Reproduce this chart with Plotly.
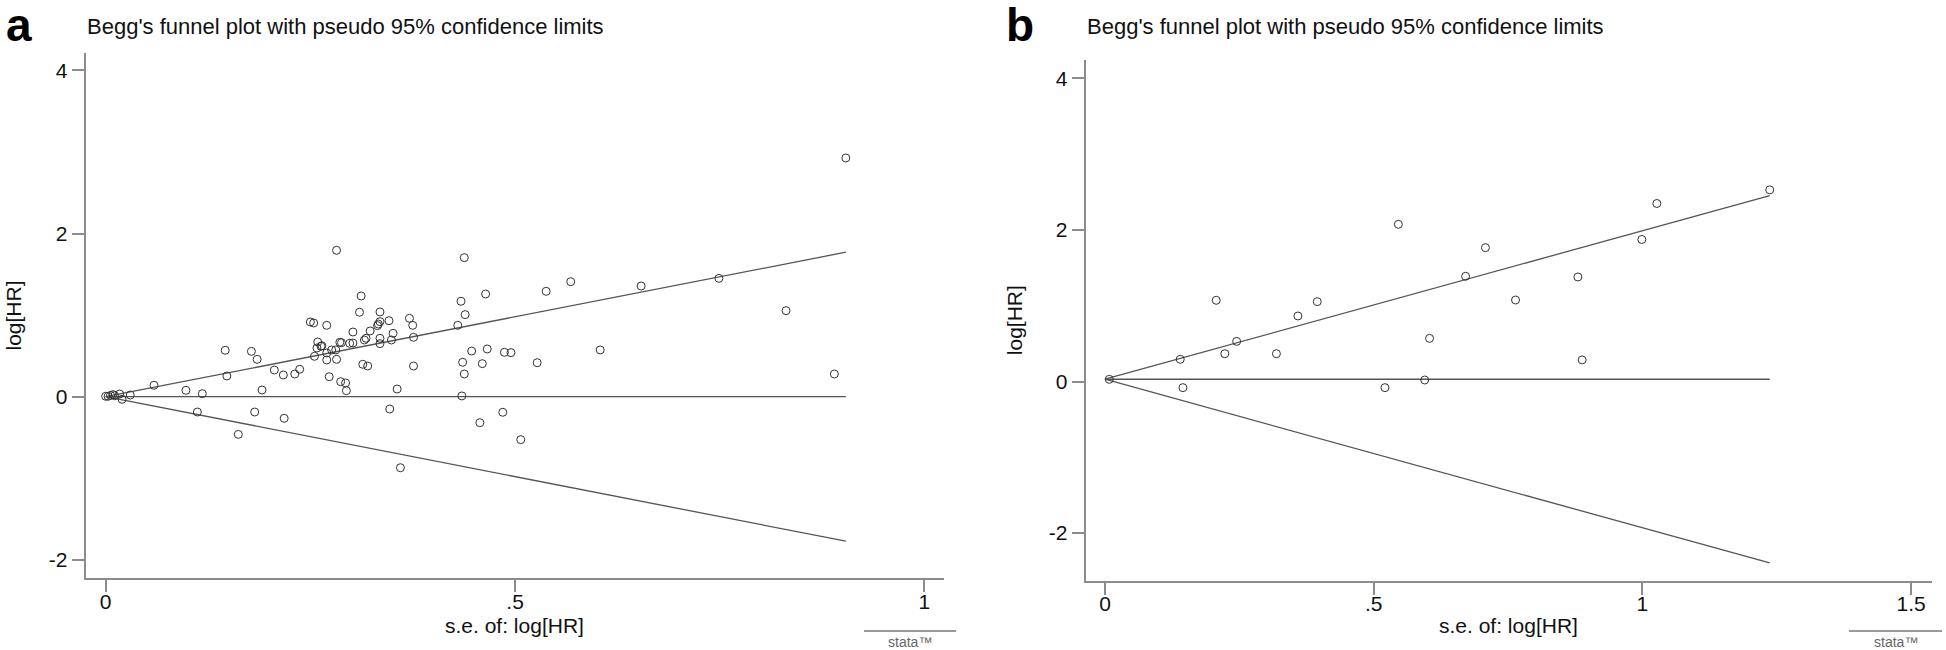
import plotly.graph_objects as go

W, H = 1946, 650

# ---------------- data ----------------
se_a = [0.000, 0.003, 0.006, 0.009, 0.011, 0.017, 0.020, 0.030,
        0.059, 0.098, 0.118, 0.112, 0.146, 0.148, 0.162, 0.178, 0.185, 0.182,
        0.191, 0.206, 0.217, 0.218, 0.231, 0.237, 0.250, 0.254, 0.255, 0.259,
        0.258, 0.263, 0.264, 0.270, 0.270, 0.270, 0.273, 0.276, 0.281, 0.282,
        0.282, 0.286, 0.288, 0.287, 0.293, 0.294, 0.298, 0.302, 0.302, 0.310,
        0.312, 0.314, 0.316, 0.318, 0.320, 0.323, 0.332, 0.333, 0.335, 0.335,
        0.335, 0.335, 0.346, 0.347, 0.349, 0.351, 0.356, 0.360, 0.371, 0.375,
        0.376, 0.376, 0.430, 0.434, 0.436, 0.435, 0.438, 0.438, 0.439, 0.447,
        0.457, 0.460, 0.464, 0.466, 0.485, 0.487, 0.495, 0.507, 0.527, 0.538,
        0.568, 0.604, 0.654, 0.749, 0.831, 0.890, 0.904]
loghr_a = [0.005, 0.005, 0.016, 0.025, 0.012, 0.033, -0.032, 0.020,
           0.140, 0.078, 0.037, -0.188, 0.569, 0.254, -0.462, 0.556, 0.458, -0.188,
           0.082, 0.327, 0.266, -0.265, 0.278, 0.336, 0.916, 0.904, 0.495, 0.671,
           0.597, 0.618, 0.625, 0.875, 0.536, 0.450, 0.245, 0.573, 0.573, 1.795,
           0.458, 0.667, 0.662, 0.184, 0.168, 0.074, 0.655, 0.658, 0.793, 1.035,
           1.235, 0.397, 0.695, 0.716, 0.376, 0.806, 0.871, 0.891, 1.039, 0.920,
           0.716, 0.650, 0.932, -0.151, 0.695, 0.777, 0.094, -0.871, 0.961, 0.875,
           0.728, 0.376, 0.875, 1.170, 0.422, 0.009, 1.705, 0.278, 1.006, 0.560,
           -0.319, 0.405, 1.259, 0.585, -0.191, 0.544, 0.540, -0.527, 0.417, 1.292,
           1.410, 0.573, 1.357, 1.451, 1.055, 0.278, 2.927]
theta_a = 0.0

se_b = [0.008, 0.140, 0.145, 0.207, 0.223, 0.245, 0.319, 0.359, 0.395,
        0.521, 0.546, 0.595, 0.604, 0.671, 0.708, 0.764, 0.880, 0.888,
        0.999, 1.027, 1.237]
loghr_b = [0.029, 0.293, -0.081, 1.072, 0.367, 0.530, 0.367, 0.865, 1.054,
           -0.081, 2.075, 0.020, 0.570, 1.389, 1.767, 1.076, 1.380, 0.285,
           1.875, 2.350, 2.530]
theta_b = 0.03

z95 = 1.96

x_ticks_a = [0, 0.5, 1]
x_ticktext_a = ["0", ".5", "1"]
x_ticks_b = [0, 0.5, 1, 1.5]
x_ticktext_b = ["0", ".5", "1", "1.5"]
y_ticks = [-2, 0, 2, 4]
y_ticktext = ["-2", "0", "2", "4"]

title_text = "Begg's funnel plot with pseudo 95% confidence limits"
panel_letters = ["a", "b"]
x_title = "s.e. of: log[HR]"
y_title = "log[HR]"
logo_text = "stata\u2122"

# ---------------- layout geometry (pixels) ----------------
panels = [
    dict(left=85.7, right=943.75, top=52.7, bottom=578.3,
         xr=[-0.0244, 1.0236], yr=[-2.227, 4.218]),
    dict(left=1085.7, right=1932.0, top=59.7, bottom=580.6,
         xr=[-0.0359, 1.539], yr=[-2.628, 4.248]),
]

FONT = "Liberation Sans, Arial, sans-serif"
AXCOL = "#8c8c8c"
LINECOL = "#555555"
MARKCOL = "#333333"


def px(x):
    return x / W


def py(y):
    return 1 - y / H


fig = go.Figure()

datasets = [(se_a, loghr_a, theta_a), (se_b, loghr_b, theta_b)]
for i, (se, lhr, th) in enumerate(datasets):
    xa = "x" if i == 0 else "x2"
    ya = "y" if i == 0 else "y2"
    smax = max(se)
    line_x = [0, smax]
    # pseudo 95% limits and the pooled estimate
    for yy in ([th + z95 * v for v in line_x],
               [th - z95 * v for v in line_x],
               [th, th]):
        fig.add_trace(go.Scatter(x=line_x, y=yy, mode="lines",
                                 line=dict(color=LINECOL, width=1.3),
                                 xaxis=xa, yaxis=ya, showlegend=False,
                                 hoverinfo="skip"))
    fig.add_trace(go.Scatter(x=se, y=lhr, mode="markers",
                             marker=dict(symbol="circle-open", size=8,
                                         color=MARKCOL,
                                         line=dict(width=1, color=MARKCOL)),
                             xaxis=xa, yaxis=ya, showlegend=False,
                             cliponaxis=False))

axis_common = dict(showline=True, linecolor=AXCOL, linewidth=2,
                   ticks="outside", ticklen=12, tickwidth=1.5,
                   tickcolor=AXCOL, showgrid=False, zeroline=False,
                   tickfont=dict(family=FONT, size=21, color="#111111"),
                   fixedrange=True)

layout = dict(width=W, height=H, margin=dict(l=0, r=0, t=0, b=0),
              paper_bgcolor="white", plot_bgcolor="white",
              showlegend=False, font=dict(family=FONT, color="#111111"))

for i, p in enumerate(panels):
    sx = "" if i == 0 else "2"
    xt = x_ticks_a if i == 0 else x_ticks_b
    xtt = x_ticktext_a if i == 0 else x_ticktext_b
    layout["xaxis" + sx] = dict(axis_common,
                                domain=[px(p["left"]), px(p["right"])],
                                range=p["xr"], tickvals=xt, ticktext=xtt,
                                ticklabelstandoff=-9,
                                anchor="y" + sx)
    layout["yaxis" + sx] = dict(axis_common,
                                domain=[py(p["bottom"]), py(p["top"])],
                                range=p["yr"], tickvals=y_ticks,
                                ticktext=y_ticktext, anchor="x" + sx)

fig.update_layout(**layout)

annotations = []
shapes = []
letter_x = [4, 1004]
ylab_x = [13, 1014]
logo_x = [(864, 956), (1849, 1942)]
for i, p in enumerate(panels):
    # panel letter
    annotations.append(dict(text="<b>%s</b>" % panel_letters[i], xref="paper",
                            yref="paper", x=px(letter_x[i]), y=py(53),
                            xanchor="left", yanchor="bottom", showarrow=False,
                            font=dict(family=FONT, size=46, color="black")))
    # title
    annotations.append(dict(text=title_text, xref="paper", yref="paper",
                            x=px(p["left"] - 1), y=py(26), xanchor="left",
                            yanchor="middle", showarrow=False,
                            font=dict(family=FONT, size=22, color="#111111")))
    # y-axis title
    annotations.append(dict(text=y_title, xref="paper", yref="paper",
                            x=px(ylab_x[i]), y=py((p["top"] + p["bottom"]) / 2),
                            xanchor="center", yanchor="middle",
                            textangle=-90, showarrow=False,
                            font=dict(family=FONT, size=21, color="#111111")))
    # x-axis title
    annotations.append(dict(text=x_title, xref="paper", yref="paper",
                            x=px((p["left"] + p["right"]) / 2), y=py(625),
                            xanchor="center", yanchor="middle",
                            showarrow=False,
                            font=dict(family=FONT, size=21, color="#111111")))
    # stata logo
    x0, x1 = logo_x[i]
    shapes.append(dict(type="line", xref="paper", yref="paper",
                       x0=px(x0), x1=px(x1), y0=py(631), y1=py(631),
                       line=dict(color="#777777", width=1.5)))
    annotations.append(dict(text=logo_text, xref="paper", yref="paper",
                            x=px((x0 + x1) / 2), y=py(642),
                            xanchor="center", yanchor="middle",
                            showarrow=False,
                            font=dict(family=FONT, size=14, color="#666666")))

fig.update_layout(annotations=annotations, shapes=shapes)

fig.write_html("out.html", config={"displayModeBar": False},
               post_script="document.body.style.margin='0';")
